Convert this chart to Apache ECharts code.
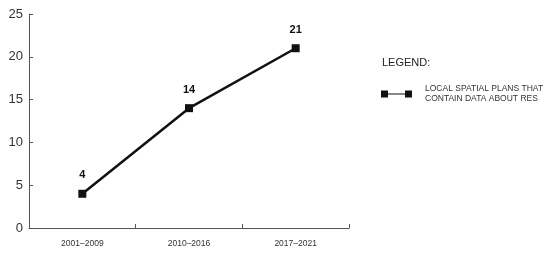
<!DOCTYPE html>
<html>
<head>
<meta charset="utf-8">
<script src="https://cdn.jsdelivr.net/npm/echarts@6/dist/echarts.min.js"></script>
<style>
  html, body { margin: 0; padding: 0; background: #fff; }
  #chart { width: 550px; height: 253px; }
</style>
</head>
<body>
<div id="chart"></div>
<script>
// periods and counts
var periods = ['2001\u20132009', '2010\u20132016', '2017\u20132021'];
var plansWithRes = [4, 14, 21];
var yTicks = [0, 5, 10, 15, 20, 25];
var seriesName = 'LOCAL SPATIAL PLANS THAT\nCONTAIN DATA ABOUT RES';

var chart = echarts.init(document.getElementById('chart'));

var axisGray = '#555';

chart.setOption({
  animation: false,
  textStyle: { fontFamily: 'Liberation Sans, Arial, sans-serif' },
  title: {
    text: 'LEGEND:',
    left: 377,
    top: 52,
    textStyle: { fontSize: 11, fontWeight: 'normal', color: '#222' }
  },
  legend: {
    left: 376,
    top: 79,
    orient: 'vertical',
    itemWidth: 31,
    itemHeight: 7,
    itemGap: 6,
    icon: 'path://M0,0h7v7h-7z M7,3h17v1h-17z M24,0h7v7h-7z',
    textStyle: { fontSize: 8.5, color: '#333', lineHeight: 10, padding: [0, 0, 0, 8] },
    data: [seriesName]
  },
  grid: { left: 29, right: 201, top: 14, bottom: 25, containLabel: false },
  xAxis: {
    type: 'category',
    data: periods,
    boundaryGap: true,
    axisLine: { lineStyle: { color: axisGray, width: 1 } },
    axisTick: { show: true, inside: true, length: 4, lineStyle: { color: axisGray } },
    axisLabel: { fontSize: 8.5, color: '#333', margin: 11 }
  },
  yAxis: {
    type: 'value',
    min: 0,
    max: 25,
    interval: 5,
    splitLine: { show: false },
    axisLine: { show: true, lineStyle: { color: axisGray, width: 1 } },
    axisTick: { show: true, inside: true, length: 4, lineStyle: { color: axisGray } },
    axisLabel: {
      fontSize: 13,
      color: '#333',
      margin: 6,
      formatter: function (v) { return yTicks.indexOf(v) >= 0 ? String(v) : ''; }
    }
  },
  series: [{
    name: seriesName,
    type: 'line',
    data: plansWithRes,
    symbol: 'rect',
    symbolSize: 8,
    lineStyle: { color: '#111', width: 2.5 },
    itemStyle: { color: '#111' },
    label: {
      show: true,
      position: 'top',
      distance: 9,
      fontSize: 11,
      fontWeight: 'bold',
      color: '#111'
    }
  }]
});
</script>
</body>
</html>
